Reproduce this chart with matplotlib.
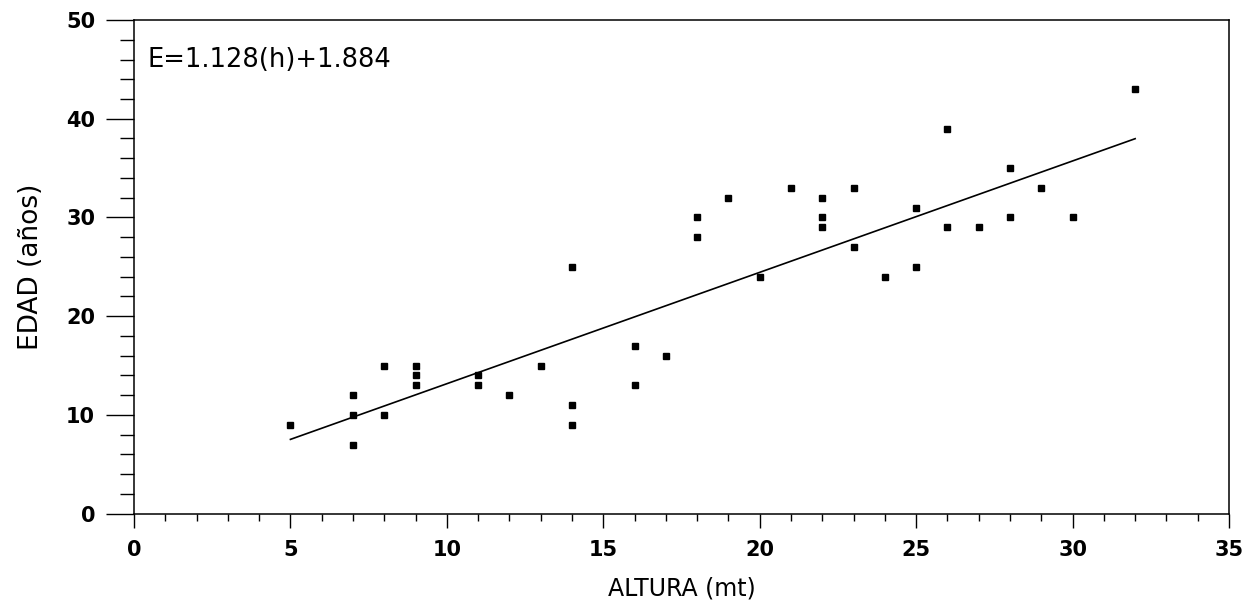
import numpy as np
import matplotlib.pyplot as plt
from matplotlib.ticker import MultipleLocator

# Datos: altura (m) y edad (años)
altura = [5, 7, 7, 7, 8, 8, 9, 9, 9, 11, 11, 12, 13, 14, 14, 14, 16, 16, 17,
          18, 18, 19, 20, 21, 22, 22, 22, 23, 23, 24, 25, 25, 26, 26, 27,
          28, 28, 29, 30, 32]
edad = [9, 12, 10, 7, 15, 10, 15, 14, 13, 14, 13, 12, 15, 25, 11, 9, 17, 13, 16,
        30, 28, 32, 24, 33, 32, 30, 29, 33, 27, 24, 31, 25, 39, 29, 29,
        35, 30, 33, 30, 43]

# Recta de regresión
pendiente = 1.128
intercepto = 1.884
x_recta = np.array([min(altura), max(altura)])
y_recta = pendiente * x_recta + intercepto

fig = plt.figure(figsize=(12.56, 6.01), dpi=100)
ax = fig.add_axes([0.1067, 0.1453, 0.8718, 0.8214])

ax.plot(altura, edad, 's', color='black', markersize=5)
ax.plot(x_recta, y_recta, '-', color='black', linewidth=1.2)

ax.set_xlim(0, 35)
ax.set_ylim(0, 50)
ax.xaxis.set_major_locator(MultipleLocator(5))
ax.xaxis.set_minor_locator(MultipleLocator(1))
ax.yaxis.set_major_locator(MultipleLocator(10))
ax.yaxis.set_minor_locator(MultipleLocator(2))

ax.tick_params(axis='x', which='major', direction='out', length=10, width=1, pad=9, labelsize=15)
ax.tick_params(axis='x', which='minor', direction='out', length=5, width=1)
ax.tick_params(axis='y', which='major', direction='out', length=20, width=1, pad=8, labelsize=15)
ax.tick_params(axis='y', which='minor', direction='out', length=10, width=1)
for lab in ax.get_xticklabels() + ax.get_yticklabels():
    lab.set_fontweight('bold')

for s in ax.spines.values():
    s.set_linewidth(1.1)

ax.set_xlabel('ALTURA (mt)', fontsize=17, labelpad=12)
ax.set_ylabel('EDAD (años)', fontsize=19, labelpad=16)
ax.text(0.012, 0.945, 'E=1.128(h)+1.884', transform=ax.transAxes,
        fontsize=18.5, va='top', ha='left')

fig.savefig('out.png', dpi=100)
